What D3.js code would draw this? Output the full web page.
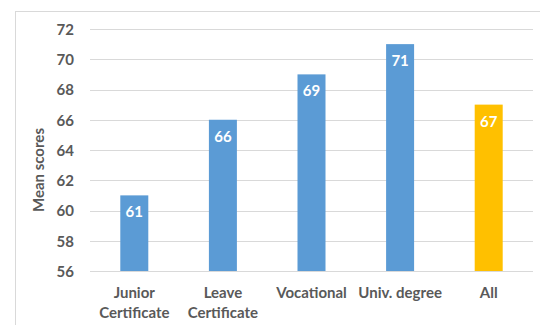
<!DOCTYPE html>
<html><head><meta charset="utf-8">
<script src="https://cdn.jsdelivr.net/npm/d3@7"></script>
<style>body{margin:0;background:#fff}svg{display:block}text{font-family:Lato,"Open Sans",sans-serif;font-weight:bold}</style>
</head><body>
<svg id="c" width="540" height="325"></svg>
<script>
const categories = [["Junior","Certificate"],["Leave","Certificate"],["Vocational"],["Univ. degree"],["All"]];
const values = [61, 66, 69, 71, 67];
const colors = ["#5B9BD5","#5B9BD5","#5B9BD5","#5B9BD5","#FFC000"];
const yTicks = [56,58,60,62,64,66,68,70,72];

const svg = d3.select("#c");
svg.append("rect").attr("x",15.5).attr("y",11.5).attr("width",600).attr("height",400)
  .attr("fill","none").attr("stroke","#d9d9d9");

const x = d3.scaleBand().domain(d3.range(values.length)).range([90,533]).paddingInner(0.684).paddingOuter(0.342);
const y = d3.scaleLinear().domain([56,72]).range([271,29]);

svg.append("g").selectAll("line").data(yTicks).join("line")
  .attr("x1",90).attr("x2",533).attr("y1",d=>Math.round(y(d))+0.5).attr("y2",d=>Math.round(y(d))+0.5)
  .attr("stroke","#d9d9d9").attr("stroke-width",1.2);

const yAxis = svg.append("g").attr("transform","translate(74,0)")
  .call(d3.axisLeft(y).tickValues(yTicks).tickSize(0).tickPadding(0));
yAxis.select(".domain").remove();
yAxis.selectAll("text").attr("fill","#595959").style("font-size","15px").attr("dy","0.35em");

svg.append("text").attr("transform","translate(44,170) rotate(-90)").attr("text-anchor","middle")
  .attr("fill","#595959").style("font-size","15px").text("Mean scores");

svg.append("g").selectAll("rect").data(values).join("rect")
  .attr("x",(d,i)=>x(i)).attr("width",x.bandwidth())
  .attr("y",d=>y(d)).attr("height",d=>y(56)-y(d)).attr("fill",(d,i)=>colors[i]);

svg.append("g").selectAll("text").data(values).join("text")
  .attr("x",(d,i)=>x(i)+x.bandwidth()/2).attr("y",d=>y(d)+22)
  .attr("text-anchor","middle").attr("fill","#fff").style("font-size","15px").text(d=>d);

const xl = svg.append("g").selectAll("text").data(categories).join("text")
  .attr("x",(d,i)=>x(i)+x.bandwidth()/2).attr("y",298)
  .attr("text-anchor","middle").attr("fill","#595959").style("font-size","15px");
xl.selectAll("tspan").data(d=>d).join("tspan")
  .attr("x",function(){return this.parentNode.getAttribute("x");})
  .attr("dy",(d,i)=>i?20:0).text(d=>d);
</script>
</body></html>
